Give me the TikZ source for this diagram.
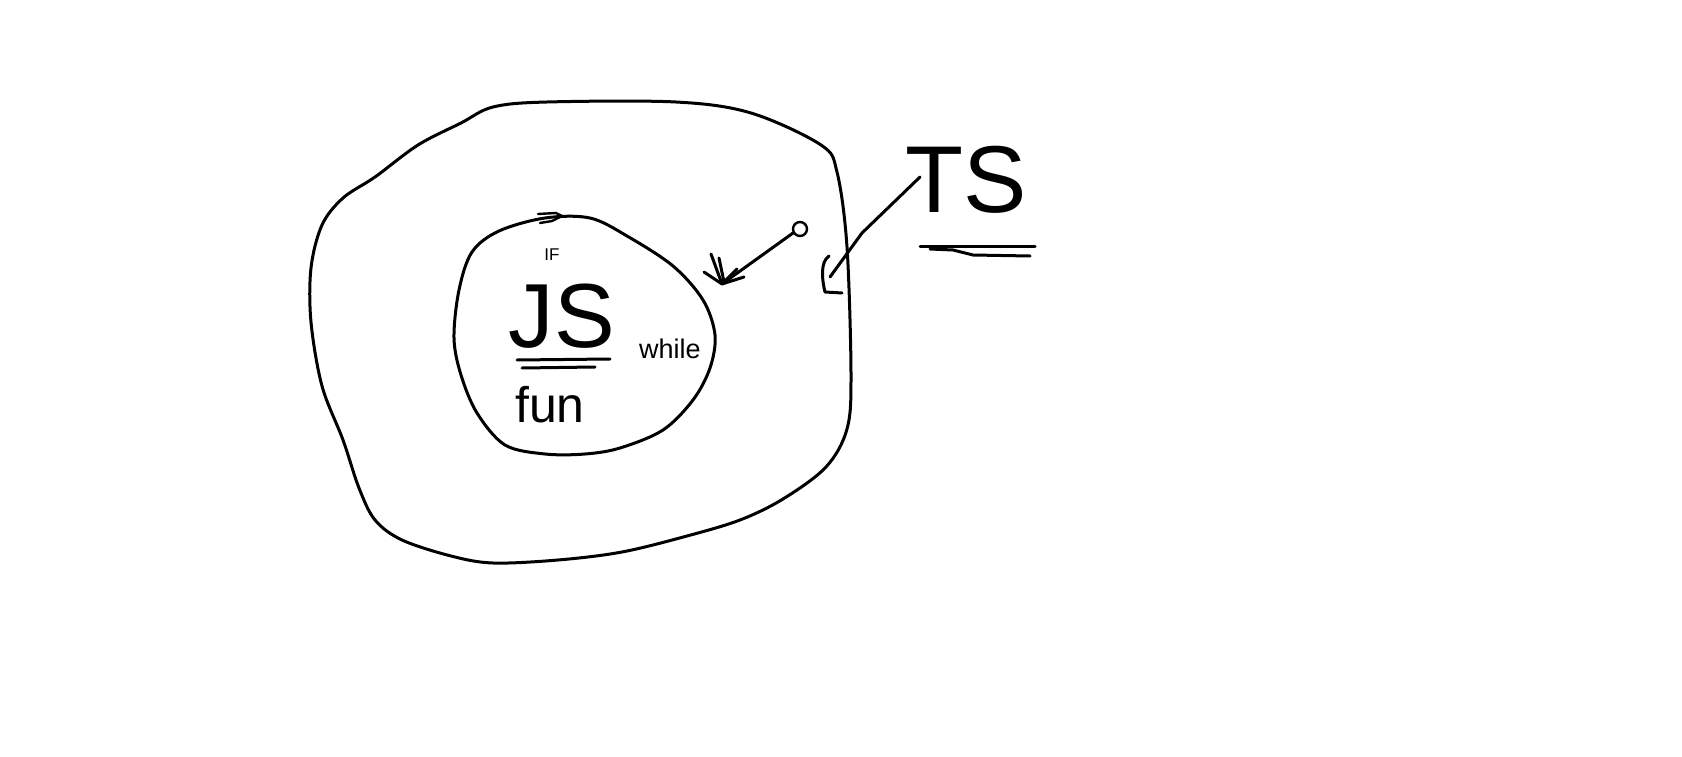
\documentclass[tikz,border=0pt]{standalone}
\usepackage{fontspec}
\setmainfont{Liberation Sans}
\usetikzlibrary{arrows.meta}
\tikzset{
  pen/.style={line width=3pt, line cap=round, line join=round, black},
  lbl/.style={inner sep=0pt, outer sep=0pt, text=black},
}
\begin{document}
\begin{tikzpicture}[x=1pt, y=-1pt]
\useasboundingbox (0,0) rectangle (1682,757);
% outer blob
\draw[pen] plot[smooth cycle, tension=0.55] coordinates {
 (493,107) (547,102) (676,102) (751,113) (821,145) (837,172) (847,247)
 (851,375) (847,429) (826,467) (783,499) (740,520) (687,536) (622,552)
 (558,560) (493,563) (451,556) (402,540) (375,520) (359,488) (343,440)
 (322,386) (311,322) (311,268) (322,225) (343,198) (375,177) (418,145) (461,123)};
% inner blob
\draw[pen] plot[smooth cycle, tension=0.55] coordinates {
 (545,218) (590,218) (627,236) (673,266) (703,300) (715,335) (710,368)
 (693,400) (663,430) (620,448) (585,454) (545,454) (505,445) (477,413)
 (461,375) (454,338) (459,290) (472,252) (499,231)};
% small scribble on top of inner blob
\draw[pen, line width=2.4pt] (538,214) -- (556,213) -- (562,216) -- (552,221) -- (540,223);
% texts inside
\node[lbl, font=\fontsize{17}{17}\selectfont] (if) at (552,255) {IF};
\node[lbl, font=\fontsize{91}{91}\selectfont] (js) at (562,316) {JS};
\draw[pen] (517,360) -- (610,359);
\draw[pen] (522,368) -- (595,367);
\node[lbl, font=\fontsize{27}{27}\selectfont] (while) at (670,349) {while};
\node[lbl, font=\fontsize{50}{50}\selectfont] (fun) at (550,405) {fun};
% TS outside
\node[lbl, font=\fontsize{95}{95}\selectfont] (ts) at (966,180) {TS};
\draw[pen] (920,246) -- (1035,246);
\draw[pen] (930,249) -- (953,250) -- (973,255) -- (1030,256);
% connector TS -> outer
\coordinate (tsfoot) at (920,177);
\coordinate (tsbend) at (862,233);
\coordinate (outerhit) at (830,277);
\draw[pen] (tsfoot) -- (tsbend) -- (outerhit);
\draw[pen] (829,256) .. controls (820,262) and (822,280) .. (825,292) -- (842,293);
% connector from small circle -> inner
\coordinate (ring) at (800,229);
\coordinate (innerhit) at (722,284);
\draw[pen, line width=2.4pt] (ring) circle (7);
\draw[pen] (793,233) -- (innerhit);
\draw[pen] (711,254) -- (722,284) -- (744,277);
\draw[pen] (704,272) -- (722,284);
\draw[pen] (719,258) -- (724,282) -- (737,269);
\end{tikzpicture}
\end{document}
